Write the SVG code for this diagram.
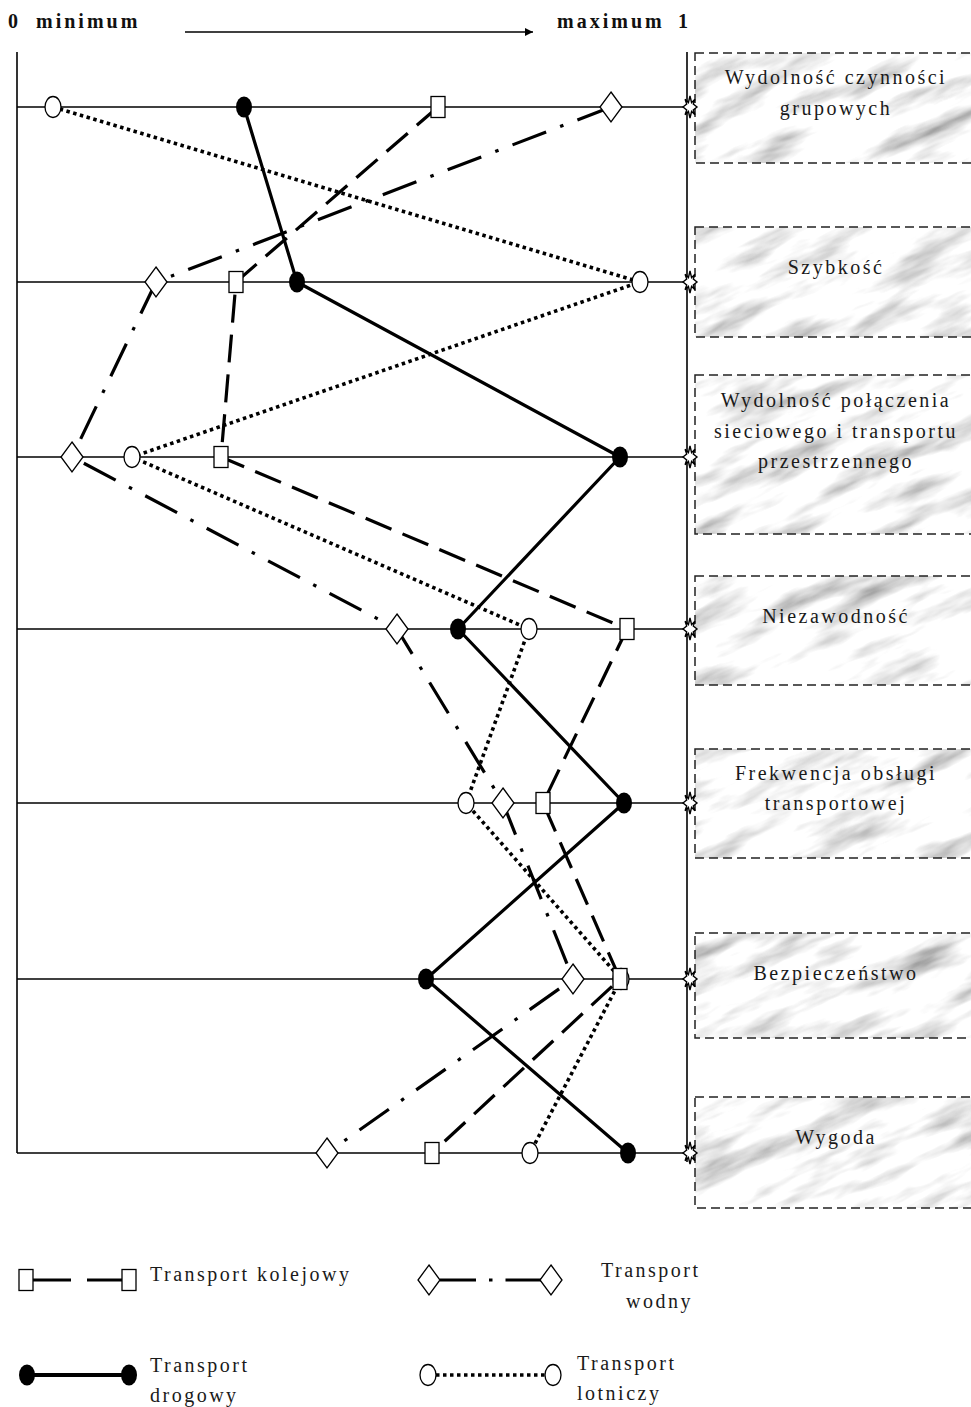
<svg xmlns="http://www.w3.org/2000/svg" width="971" height="1407" viewBox="0 0 971 1407">
  <style>
    .axis { stroke: #000; stroke-width: 1.6; fill: none; }
    .row { stroke: #000; stroke-width: 1.5; fill: none; }
    .rail { stroke: #000; stroke-width: 3.2; fill: none; stroke-dasharray: 28 12; }
    .water { stroke: #000; stroke-width: 3.2; fill: none; stroke-dasharray: 36 15 3.5 15; }
    .road { stroke: #000; stroke-width: 3.2; fill: none; stroke-linejoin: round; }
    .air { stroke: #000; stroke-width: 3.6; fill: none; stroke-dasharray: 3.5 3.5; }
    .box { fill: none; stroke: #222; stroke-width: 1.5; stroke-dasharray: 9 5; }
    .lbl { font-family: "Liberation Serif", "Times New Roman", serif; font-size: 20px; letter-spacing: 2.5px; fill: #1a1a1a; text-anchor: middle; }
    .leg { font-family: "Liberation Serif", "Times New Roman", serif; font-size: 20px; letter-spacing: 2.5px; fill: #1a1a1a; }
    .hdr { font-family: "Liberation Serif", "Times New Roman", serif; font-size: 20px; font-weight: bold; letter-spacing: 3px; fill: #111; }
    .open { fill: #fff; stroke: #000; stroke-width: 1.3; }
    .dot { fill: #000; stroke: none; }
  </style>
  <defs>
    <!-- grey marble grain for the criterion boxes -->
    <filter id="marbleNoise" filterUnits="userSpaceOnUse" x="-400" y="-400" width="1800" height="2400">
      <feTurbulence type="fractalNoise" baseFrequency="0.011 0.045" numOctaves="4" seed="7" result="n"/>
      <feColorMatrix in="n" type="matrix" values="1.5 0 0 0 0.2  1.5 0 0 0 0.2  1.5 0 0 0 0.2  0 0 0 0 1"/>
    </filter>
    <clipPath id="boxClip">
      <rect x="695" y="53" width="300" height="110"/>
      <rect x="695" y="227" width="300" height="110"/>
      <rect x="695" y="375" width="300" height="159"/>
      <rect x="695" y="576" width="300" height="109"/>
      <rect x="695" y="749" width="300" height="109"/>
      <rect x="695" y="933" width="300" height="105"/>
      <rect x="695" y="1097" width="300" height="111"/>
    </clipPath>
    <marker id="arrowHead" viewBox="0 0 10 10" refX="10" refY="5" markerWidth="9" markerHeight="8" markerUnits="userSpaceOnUse" orient="auto">
      <path d="M0,0 L10,5 L0,10 Z" fill="#000"/>
    </marker>
    <!-- point symbols -->
    <rect id="sq" x="-7" y="-10.5" width="14" height="21" class="open"/>
    <path id="dia" d="M0,-15 L11,0 L0,15 L-11,0 Z" class="open"/>
    <ellipse id="circ" cx="0" cy="0" rx="8" ry="10.5" class="open"/>
    <ellipse id="fill" cx="0" cy="0" rx="8" ry="10.5" class="dot"/>
    <path id="star" d="M0,-11 L1.6,-4.3 L4.9,-7.7 L3.3,-3 L7,0 L3.3,3 L4.9,7.7 L1.6,4.3 L0,11 L-1.6,4.3 L-4.9,7.7 L-3.3,3 L-7,0 L-3.3,-3 L-4.9,-7.7 L-1.6,-4.3 Z" fill="#fff" stroke="#000" stroke-width="1.4"/>
  </defs>

  <rect width="971" height="1407" fill="#fff"/>

  <!-- scale header -->
  <g id="header">
    <text class="hdr" x="8" y="28">0</text>
    <text class="hdr" x="36" y="28">minimum</text>
    <text class="hdr" x="557" y="28">maximum</text>
    <text class="hdr" x="678" y="28">1</text>
    <line x1="185" y1="32" x2="533" y2="32" stroke="#000" stroke-width="1.6" marker-end="url(#arrowHead)"/>
  </g>

  <!-- marble surface shared by all criterion boxes -->
  <g id="box-surface" clip-path="url(#boxClip)">
    <g transform="rotate(-24 833 630)">
      <rect x="300" y="-100" width="1100" height="1500" fill="#ddd" filter="url(#marbleNoise)"/>
    </g>
  </g>

  <!-- criterion boxes -->
  <g id="box-wydolnosc-czynnosci">
    <rect class="box" x="695" y="53" width="300" height="110"/>
    <text class="lbl" x="836" y="84">Wydolność czynności</text>
    <text class="lbl" x="836" y="115">grupowych</text>
  </g>
  <g id="box-szybkosc">
    <rect class="box" x="695" y="227" width="300" height="110"/>
    <text class="lbl" x="836" y="274">Szybkość</text>
  </g>
  <g id="box-wydolnosc-polaczenia">
    <rect class="box" x="695" y="375" width="300" height="159"/>
    <text class="lbl" x="836" y="407">Wydolność połączenia</text>
    <text class="lbl" x="836" y="438">sieciowego i transportu</text>
    <text class="lbl" x="836" y="468">przestrzennego</text>
  </g>
  <g id="box-niezawodnosc">
    <rect class="box" x="695" y="576" width="300" height="109"/>
    <text class="lbl" x="836" y="623">Niezawodność</text>
  </g>
  <g id="box-frekwencja">
    <rect class="box" x="695" y="749" width="300" height="109"/>
    <text class="lbl" x="836" y="780">Frekwencja obsługi</text>
    <text class="lbl" x="836" y="810">transportowej</text>
  </g>
  <g id="box-bezpieczenstwo">
    <rect class="box" x="695" y="933" width="300" height="105"/>
    <text class="lbl" x="836" y="980">Bezpieczeństwo</text>
  </g>
  <g id="box-wygoda">
    <rect class="box" x="695" y="1097" width="300" height="111"/>
    <text class="lbl" x="836" y="1144">Wygoda</text>
  </g>

  <!-- axes and criterion rows -->
  <g id="grid">
    <line class="axis" x1="17" y1="52" x2="17" y2="1153"/>
    <line class="axis" x1="687" y1="52" x2="687" y2="1162"/>
    <line class="row" x1="17" y1="107" x2="687" y2="107"/>
    <line class="row" x1="17" y1="282" x2="687" y2="282"/>
    <line class="row" x1="17" y1="457" x2="687" y2="457"/>
    <line class="row" x1="17" y1="629" x2="687" y2="629"/>
    <line class="row" x1="17" y1="803" x2="687" y2="803"/>
    <line class="row" x1="17" y1="979" x2="687" y2="979"/>
    <line class="row" x1="17" y1="1153" x2="687" y2="1153"/>
  </g>

  <!-- profile connectors -->
  <g id="connectors">
    <polyline class="air" points="53,107 640,282 132,457 529,629 466,803 621,979 530,1153"/>
    <polyline class="water" points="611,107 156,282 72,457 397,629 503,803 573,979 327,1153"/>
    <polyline class="rail" points="438,107 236,282 221,457 627,629 543,803 620,979 432,1153"/>
    <polyline class="road" points="244,107 297,282 620,457 458,629 624,803 426,979 628,1153"/>
  </g>

  <!-- data points: air -->
  <g id="points-lotniczy">
    <use href="#circ" x="53" y="107"/>
    <use href="#circ" x="640" y="282"/>
    <use href="#circ" x="132" y="457"/>
    <use href="#circ" x="529" y="629"/>
    <use href="#circ" x="466" y="803"/>
    <use href="#circ" x="621" y="979"/>
    <use href="#circ" x="530" y="1153"/>
  </g>
  <!-- data points: water -->
  <g id="points-wodny">
    <use href="#dia" x="611" y="107"/>
    <use href="#dia" x="156" y="282"/>
    <use href="#dia" x="72" y="457"/>
    <use href="#dia" x="397" y="629"/>
    <use href="#dia" x="503" y="803"/>
    <use href="#dia" x="573" y="979"/>
    <use href="#dia" x="327" y="1153"/>
  </g>
  <!-- data points: rail -->
  <g id="points-kolejowy">
    <use href="#sq" x="438" y="107"/>
    <use href="#sq" x="236" y="282"/>
    <use href="#sq" x="221" y="457"/>
    <use href="#sq" x="627" y="629"/>
    <use href="#sq" x="543" y="803"/>
    <use href="#sq" x="620" y="979"/>
    <use href="#sq" x="432" y="1153"/>
  </g>
  <!-- data points: road -->
  <g id="points-drogowy">
    <use href="#fill" x="244" y="107"/>
    <use href="#fill" x="297" y="282"/>
    <use href="#fill" x="620" y="457"/>
    <use href="#fill" x="458" y="629"/>
    <use href="#fill" x="624" y="803"/>
    <use href="#fill" x="426" y="979"/>
    <use href="#fill" x="628" y="1153"/>
  </g>

  <!-- joints on the maximum axis -->
  <g id="axis-joints">
    <use href="#star" x="690" y="107"/>
    <use href="#star" x="690" y="282"/>
    <use href="#star" x="690" y="457"/>
    <use href="#star" x="690" y="629"/>
    <use href="#star" x="690" y="803"/>
    <use href="#star" x="690" y="979"/>
    <use href="#star" x="690" y="1153"/>
  </g>

  <!-- legend -->
  <g id="legend-kolejowy">
    <line class="rail" x1="33" y1="1280" x2="122" y2="1280" style="stroke-dasharray: 38 16"/>
    <use href="#sq" x="26" y="1280"/>
    <use href="#sq" x="129" y="1280"/>
    <text class="leg" x="150" y="1281">Transport kolejowy</text>
  </g>
  <g id="legend-wodny">
    <line class="water" x1="440" y1="1280" x2="541" y2="1280" style="stroke-dasharray: 36 13 3.5 13"/>
    <use href="#dia" x="429" y="1280"/>
    <use href="#dia" x="551" y="1280"/>
    <text class="leg" x="601" y="1277">Transport</text>
    <text class="leg" x="626" y="1308">wodny</text>
  </g>
  <g id="legend-drogowy">
    <line class="road" x1="27" y1="1375" x2="129" y2="1375" style="stroke-width: 4"/>
    <use href="#fill" x="27" y="1375"/>
    <use href="#fill" x="129" y="1375"/>
    <text class="leg" x="150" y="1372">Transport</text>
    <text class="leg" x="150" y="1402">drogowy</text>
  </g>
  <g id="legend-lotniczy">
    <line class="air" x1="436" y1="1375" x2="545" y2="1375"/>
    <use href="#circ" x="428" y="1375"/>
    <use href="#circ" x="553" y="1375"/>
    <text class="leg" x="577" y="1370">Transport</text>
    <text class="leg" x="577" y="1400">lotniczy</text>
  </g>
</svg>
